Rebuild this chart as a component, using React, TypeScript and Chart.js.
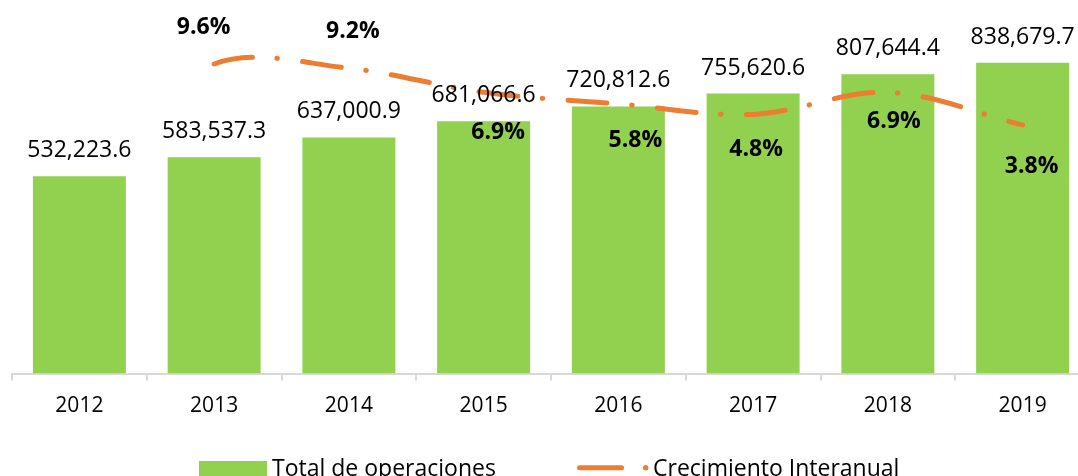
import React, { useEffect, useRef } from "react";
import { Chart, registerables } from "chart.js";

Chart.register(...registerables);

const years = ["2012", "2013", "2014", "2015", "2016", "2017", "2018", "2019"];
const totalOperaciones = [532223.6, 583537.3, 637000.9, 681066.6, 720812.6, 755620.6, 807644.4, 838679.7];
// 2012 has no visible growth value: it only shapes the smoothed curve (its segment is hidden, no label)
const crecimientoInteranual = [0, 9.6, 9.2, 6.9, 5.8, 4.8, 6.9, 3.8];
const crecimientoVisible = [false, true, true, true, true, true, true, true];

const barLabel = "Total de operaciones";
const lineLabel = "Crecimiento Interanual";

const GREEN = "#92D050";
const ORANGE = "#ED7D31";
const FONT = '"Open Sans", "Noto Sans", sans-serif';

// relative nudges of the growth labels (dx, dy to text baseline) as placed in the original
const pctNudges: [number, number][] = [
  [0, 0],
  [-10.5, -29.7],
  [4, -29.9],
  [14.5, 46.9],
  [17, 43.4],
  [3, 41.7],
  [6, 35.3],
  [9, 48.4],
];

const labelsPlugin = {
  id: "customLabels",
  afterDatasetsDraw(chart: any) {
    const ctx = chart.ctx;
    ctx.save();
    // bar value labels
    const barMeta = chart.getDatasetMeta(0);
    ctx.fillStyle = "#000";
    ctx.font = `23px ${FONT}`;
    ctx.textAlign = "center";
    ctx.textBaseline = "alphabetic";
    barMeta.data.forEach((el: any, i: number) => {
      const v = totalOperaciones[i];
      const txt = v.toLocaleString("en-US", { minimumFractionDigits: 1, maximumFractionDigits: 1 });
      ctx.fillText(txt, el.x, el.y - 19);
    });
    // growth labels
    const lineMeta = chart.getDatasetMeta(1);
    ctx.font = `bold 23px ${FONT}`;
    lineMeta.data.forEach((el: any, i: number) => {
      if (!crecimientoVisible[i]) return;
      const v = crecimientoInteranual[i];
      const [dx, dy] = pctNudges[i];
      ctx.fillText(v.toFixed(1) + "%", el.x + dx, el.y + dy);
    });
    ctx.restore();
  },
  afterDraw(chart: any) {
    const ctx = chart.ctx;
    ctx.save();
    // legend
    ctx.fillStyle = GREEN;
    ctx.fillRect(199, 461, 68, 19);
    ctx.fillStyle = "#000";
    ctx.font = `23px ${FONT}`;
    ctx.textAlign = "left";
    ctx.textBaseline = "alphabetic";
    ctx.fillText(barLabel, 272, 476);
    ctx.strokeStyle = ORANGE;
    ctx.lineWidth = 5;
    ctx.lineCap = "round";
    ctx.beginPath();
    ctx.moveTo(579.5, 467.7);
    ctx.lineTo(621.5, 467.7);
    ctx.stroke();
    ctx.fillStyle = ORANGE;
    ctx.beginPath();
    ctx.arc(645.7, 467.7, 2.7, 0, Math.PI * 2);
    ctx.fill();
    ctx.fillStyle = "#000";
    ctx.fillText(lineLabel, 653, 476);
    ctx.restore();
  },
};

export default function App() {
  const canvasRef = useRef<HTMLCanvasElement | null>(null);

  useEffect(() => {
    if (!canvasRef.current) return;
    const chart = new Chart(canvasRef.current, {
      type: "bar",
      data: {
        labels: years,
        datasets: [
          {
            type: "bar",
            label: barLabel,
            data: totalOperaciones,
            backgroundColor: GREEN,
            borderWidth: 0,
            barPercentage: 0.69,
            categoryPercentage: 1,
            yAxisID: "y",
            order: 1,
          },
          {
            type: "line",
            label: lineLabel,
            data: crecimientoInteranual,
            borderColor: ORANGE,
            backgroundColor: ORANGE,
            borderWidth: 5,
            borderDash: [39, 24.5, 0.5, 25.5],
            borderCapStyle: "round",
            borderJoinStyle: "round",
            pointRadius: 0,
            tension: 0.35,
            fill: false,
            yAxisID: "y2",
            order: 0,
            segment: {
              borderColor: (c: any) =>
                !crecimientoVisible[c.p0DataIndex] ? "rgba(0,0,0,0)" : undefined,
            },
          } as any,
        ],
      },
      options: {
        responsive: false,
        animation: false,
        devicePixelRatio: 1,
        layout: { padding: { left: 12, right: 10, top: 3, bottom: 62.5 } },
        plugins: {
          legend: { display: false },
          tooltip: { enabled: false },
        },
        scales: {
          x: {
            grid: {
              display: true,
              drawOnChartArea: false,
              drawTicks: true,
              tickLength: 7,
              color: "#D9D9D9",
              lineWidth: 2,
              offset: true,
            },
            border: { display: true, color: "#D9D9D9", width: 2 },
            ticks: {
              color: "#000",
              font: { family: FONT, size: 21 },
              padding: 13,
              maxRotation: 0,
            },
            afterFit: (scale: any) => {
              scale.height = 40;
            },
          },
          y: {
            display: false,
            min: 0,
            max: 1000000,
          },
          y2: {
            display: false,
            position: "right",
            min: -19.88,
            max: 15.41,
          },
        },
      },
      plugins: [labelsPlugin],
    });
    return () => chart.destroy();
  }, []);

  return (
    <div
      style={{
        position: "absolute",
        left: 0,
        top: 0,
        width: 1078,
        height: 476,
        overflow: "hidden",
        background: "#fff",
      }}
    >
      <canvas ref={canvasRef} width={1100} height={476} style={{ display: "block" }} />
    </div>
  );
}
